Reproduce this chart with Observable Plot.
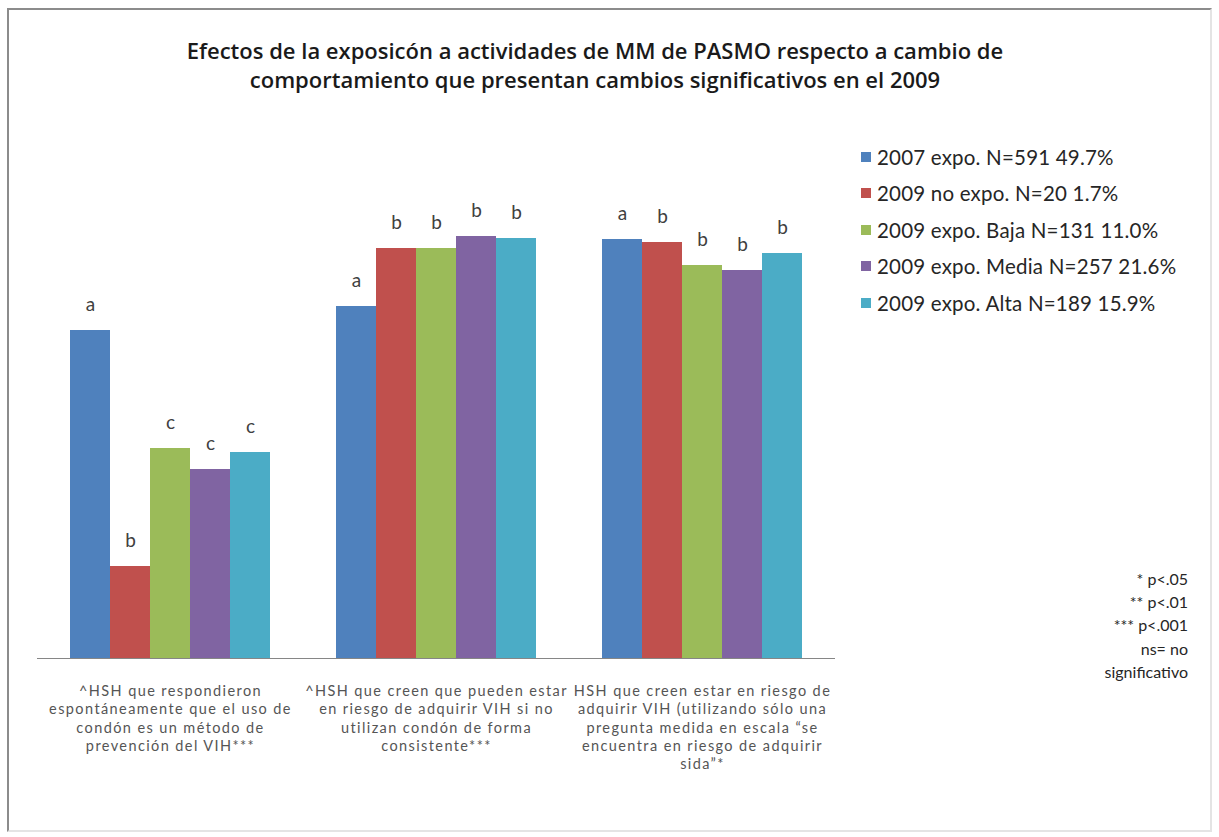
<!DOCTYPE html>
<html>
<head>
<meta charset="utf-8">
<script src="https://cdn.jsdelivr.net/npm/d3@7"></script>
<script src="https://cdn.jsdelivr.net/npm/@observablehq/plot@0.6"></script>
<style>
  html, body { margin: 0; padding: 0; background: #fff; }
  #page { position: relative; width: 1219px; height: 837px; overflow: hidden; font-family: Lato, "Open Sans", sans-serif; }
  #frame { position: absolute; left: 7px; top: 8px; width: 1201px; height: 820px;
           border-left: 2px solid #8c8c8c; border-top: 2px solid #8c8c8c;
           border-right: 2px solid #e4e4e4; border-bottom: 2px solid #e4e4e4; }
  #title { position: absolute; left: 0; width: 1190px; top: 36px; text-align: center;
           font-family: "Open Sans", sans-serif; font-weight: 600; font-size: 22px; line-height: 29px; color: #1a1a1a; }
  #chart { position: absolute; left: 0; top: 0; }
  #legend { position: absolute; left: 861px; top: 138.5px; }
  .lg { height: 36.5px; display: flex; align-items: center; font-size: 20.5px; letter-spacing: 0.2px; line-height: 32px; color: #262626; white-space: nowrap; }
  .sw { width: 10px; height: 10px; margin-right: 6px; flex: none; }
  #notes { position: absolute; right: 31px; top: 567px; text-align: right; font-size: 16px; line-height: 23.2px; color: #262626; }
  #chart g[aria-label="fx-axis tick label"] text { letter-spacing: 1.4px; }
</style>
</head>
<body>
<div id="page">
  <div id="frame"></div>
  <div id="title">Efectos de la exposicón a actividades de MM de PASMO respecto a cambio de<br>comportamiento que presentan cambios significativos en el 2009</div>
  <div id="chart"></div>
  <div id="legend"></div>
  <div id="notes">* p&lt;.05<br>** p&lt;.01<br>*** p&lt;.001<br>ns= no<br>significativo</div>
</div>
<script>
// ---- data ----
const groups = [
  "^HSH que respondieron\nespontáneamente que el uso de\ncondón es un método de\nprevención del VIH***",
  "^HSH que creen que pueden estar\nen riesgo de adquirir VIH si no\nutilizan condón de forma\nconsistente***",
  "HSH que creen estar en riesgo de\nadquirir VIH (utilizando sólo una\npregunta medida en escala “se\nencuentra en riesgo de adquirir\nsida”*"
];
const series = [
  "2007 expo. N=591 49.7%",
  "2009 no expo. N=20 1.7%",
  "2009 expo. Baja N=131 11.0%",
  "2009 expo. Media N=257 21.6%",
  "2009 expo. Alta N=189 15.9%"
];
const colors = ["#4F81BD", "#C0504D", "#9BBB59", "#8064A2", "#4BACC6"];
// values (%) per series, one per group
const v2007      = [65.6, 70.4, 83.8];
const v2009no    = [18.4, 82.0, 83.2];
const v2009baja  = [42.0, 82.0, 78.6];
const v2009media = [37.8, 84.4, 77.6];
const v2009alta  = [41.2, 84.0, 81.0];
// significance letters per series, one per group
const l2007      = ["a", "a", "a"];
const l2009no    = ["b", "b", "b"];
const l2009baja  = ["c", "b", "b"];
const l2009media = ["c", "b", "b"];
const l2009alta  = ["c", "b", "b"];

const valueSets = [v2007, v2009no, v2009baja, v2009media, v2009alta];
const letterSets = [l2007, l2009no, l2009baja, l2009media, l2009alta];
const rows = [];
series.forEach((s, i) => groups.forEach((g, j) => rows.push({group: g, series: s, value: valueSets[i][j], letter: letterSets[i][j]})));

const chart = Plot.plot({
  width: 1219,
  height: 837,
  marginLeft: 37,
  marginRight: 384,
  marginTop: 158,
  marginBottom: 179,
  style: {fontFamily: "Lato, 'Open Sans', sans-serif", fontSize: "13px", background: "transparent"},
  fx: {domain: groups, padding: 0},
  x: {domain: series, paddingInner: 0, paddingOuter: 0.75, axis: null},
  y: {domain: [0, 100], axis: null},
  color: {domain: series, range: colors},
  marks: [
    Plot.barY(rows, {fx: "group", x: "series", y: "value", fill: "series", inset: 0}),
    Plot.text(rows, {fx: "group", x: "series", y: "value", text: "letter", dy: -26, fontSize: 19, fill: "#404040"}),
    Plot.ruleY([0], {stroke: "#868686", strokeWidth: 1}),
    Plot.axisFx({anchor: "bottom", tickSize: 0, tickPadding: 25, lineHeight: 1.25, fontSize: 14.5, color: "#555", label: null})
  ]
});
document.getElementById("chart").appendChild(chart);

const legend = document.getElementById("legend");
series.forEach((s, i) => {
  const row = document.createElement("div");
  row.className = "lg";
  const sw = document.createElement("div");
  sw.className = "sw";
  sw.style.background = colors[i];
  const t = document.createElement("span");
  t.textContent = s;
  row.appendChild(sw);
  row.appendChild(t);
  legend.appendChild(row);
});
</script>
</body>
</html>
